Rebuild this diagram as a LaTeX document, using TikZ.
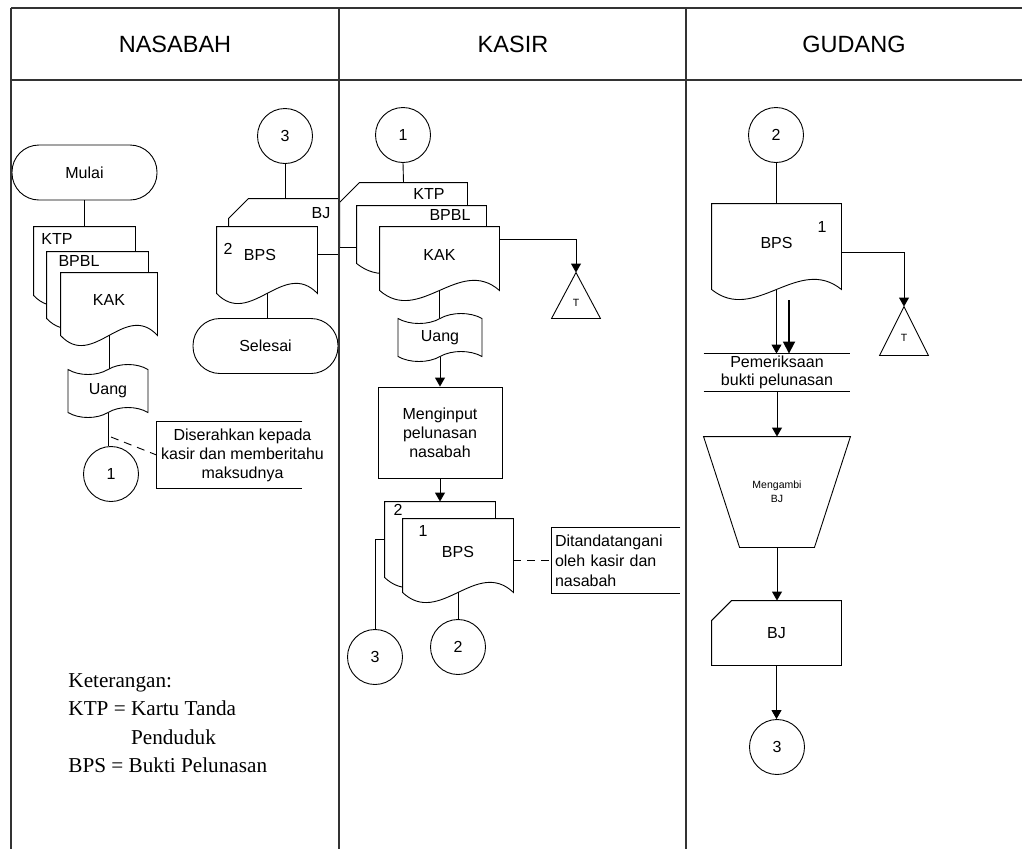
\documentclass[tikz,border=0pt]{standalone}
\usepackage{fontspec}
\setmainfont{Liberation Sans}
\newfontfamily\ketfont{Liberation Serif}
\usetikzlibrary{arrows.meta,calc,shapes.symbols}

\newcommand{\nodefont}{\fontsize{16}{19}\selectfont}
\newcommand{\smalltxt}{\fontsize{10.5}{14}\selectfont}

% document outline round an empty node (wavy bottom)
\newcommand{\docout}[2]{%
  \draw[fill=white] let \p1=(#1.south west), \p2=(#1.north east) in
    (\x1,\y2) -- (\x2,\y2) -- (\x2,\y1)
    .. controls ({\x2-(\x2-\x1)/3},{\y1+35pt}) and ({\x1+(\x2-\x1)/3},{\y1-35pt}) .. (\x1,\y1) -- cycle;
  \node[font=\nodefont] (#1-t) at ([yshift=4pt]#1) {#2};}

% card outline round an empty node (cut corner top left)
\newcommand{\cardout}[2]{%
  \draw[fill=white] let \p1=(#1.south west), \p2=(#1.north east) in
    ({\x1+20pt},\y2) -- (\x2,\y2) -- (\x2,\y1) -- (\x1,\y1) -- (\x1,{\y2-20pt}) -- cycle;
  \node[font=\nodefont] (#1-t) at (#1) {#2};}

% triangle (off-page store) round an empty node
\newcommand{\triout}[1]{%
  \draw (#1.north) -- (#1.south east) -- (#1.south west) -- cycle;
  \node[font=\smalltxt] (#1-t) at ([yshift=-7pt]#1) {T};}

\begin{document}
\begin{tikzpicture}[
    x=1pt, y=-1pt, line width=0.9pt,
    % Styles
    lane/.style={line width=2.2pt, black!80},
    docbox/.style={rectangle, inner sep=0pt},
    conn/.style={circle, draw, fill=white, minimum size=55pt, inner sep=0pt, font=\nodefont},
    term/.style={rectangle, draw, rounded corners=27pt, minimum width=145pt, minimum height=55pt, font=\nodefont},
    tapebox/.style={tape, draw, tape bend height=10pt, minimum width=80pt, inner sep=0pt, font=\nodefont},
    procbox/.style={rectangle, draw, align=center, minimum width=124pt, minimum height=91pt, font=\nodefont},
    tribox/.style={rectangle, inner sep=0pt, minimum width=48pt},
    notebox/.style={rectangle, inner sep=3pt, font=\nodefont},
    header/.style={font=\fontsize{23.5}{28}\selectfont},
    arr/.style={-{Triangle[length=9pt,width=10pt]}}
]
\useasboundingbox (0,0) rectangle (1022,849);

% --- Frame coordinates ---
\coordinate (topL) at (11,8);
\coordinate (topR) at (1022,8);
\coordinate (laneA) at (11,849);
\coordinate (laneB) at (339,849);
\coordinate (laneC) at (686,849);

% --- Headers ---
\node[header] (hN) at (175,44) {NASABAH};
\node[header] (hK) at (513,44) {KASIR};
\node[header] (hG) at (854,44) {GUDANG};

% --- Nasabah ---
\node[term] (mulai) at (84.5,172.5) {Mulai};
\node[docbox, minimum width=101pt, minimum height=68pt] (ktpN) at (84.5,261) {};
\node[docbox, minimum width=101pt, minimum height=66pt] (bpblN) at (97.5,285) {};
\node[docbox, minimum width=96pt, minimum height=62pt] (kakN) at (109,304) {};
\docout{ktpN}{}
\docout{bpblN}{}
\docout{kakN}{KAK}
\node[font=\nodefont] (ktpN-l) at (57,239) {KTP};
\node[font=\nodefont] (bpblN-l) at (79,261) {BPBL};
\node[tapebox, minimum height=53pt] (uangN) at (108,391) {Uang};
\node[conn] (circN1) at (111,474) {1};
\node[notebox, minimum width=145pt, minimum height=66pt] (noteN) at (229.5,455) {};
\node[notebox, align=center] (noteN-t) at (242.5,455)
  {Diserahkan kepada\\kasir dan memberitahu\\maksudnya};
\coordinate (noteNfrom) at (111,437);

\node[conn] (circN3) at (285,136) {3};
\node[docbox, minimum width=109pt, minimum height=55pt] (bjN) at (283.5,226.5) {};
\node[docbox, minimum width=100pt, minimum height=66pt] (bpsN) at (267,260) {};
\cardout{bjN}{}
\docout{bpsN}{}
\node[font=\nodefont] (bjN-l) at (321,213) {BJ};
\node[font=\nodefont] (bpsN-n) at (228,249) {2};
\node[font=\nodefont] (bpsN-l) at (260,255) {BPS};
\node[term] (selesai) at (265.5,346) {Selesai};

% --- Kasir ---
\node[conn] (circK1) at (403,135) {1};
\node[docbox, minimum width=127pt, minimum height=64pt] (ktpK) at (403.5,215) {};
\node[docbox, minimum width=129pt, minimum height=57pt] (bpblK) at (421.5,234.5) {};
\node[docbox, minimum width=119pt, minimum height=63pt] (kakK) at (439.5,258.5) {};
\cardout{ktpK}{}
\docout{bpblK}{}
\docout{kakK}{KAK}
\node[font=\nodefont] (ktpK-l) at (429,194) {KTP};
\node[font=\nodefont] (bpblK-l) at (450,215) {BPBL};
\node[tribox, minimum height=45pt] (triK) at (576,295.5) {};
\triout{triK}
\node[tapebox, minimum width=84pt, minimum height=48pt] (uangK) at (440,337.5) {Uang};
\node[procbox] (input) at (440,432.5) {Menginput\\pelunasan\\nasabah};
\node[docbox, minimum width=110pt, minimum height=75pt] (bps2K) at (440,539.5) {};
\node[docbox, minimum width=110pt, minimum height=73pt] (bps1K) at (458,555.5) {};
\docout{bps2K}{}
\docout{bps1K}{BPS}
\node[font=\nodefont] (bps2K-n) at (398,510) {2};
\node[font=\nodefont] (bps1K-n) at (423,531) {1};
\node[notebox, text width=122pt, align=left, font=\fontsize{16}{20}\selectfont, minimum height=65pt] (noteK) at (616,560.5)
  {Ditandatangani\\oleh kasir dan\\nasabah};
\node[conn] (circK3) at (375,657) {3};
\node[conn] (circK2) at (458,647) {2};

% --- Gudang ---
\node[conn] (circG2) at (776,135) {2};
\node[docbox, minimum width=129pt, minimum height=85pt] (bpsG) at (776.5,246.5) {};
\docout{bpsG}{BPS}
\node[font=\nodefont] (bpsG-n) at (822,227) {1};
\node[tribox, minimum height=48pt] (triG) at (904,331) {};
\triout{triG}
\node[rectangle, inner sep=0pt, minimum width=146pt, minimum height=37pt, align=center,
  font=\fontsize{16}{18}\selectfont] (periksa) at (777,372.5) {Pemeriksaan\\bukti pelunasan};
\coordinate (thickFrom) at (789,300);
\node[rectangle, inner sep=0pt, minimum width=146pt, minimum height=110pt, align=center,
  font=\smalltxt] (ambil) at (777,492) {Mengambi\\BJ};
\draw (ambil.north west) -- (ambil.north east) -- ([xshift=-36pt]ambil.south east)
  -- ([xshift=36pt]ambil.south west) -- cycle;
\node[docbox, minimum width=129pt, minimum height=64pt] (bjG) at (776.5,633) {};
\cardout{bjG}{BJ}
\node[conn] (circG3) at (777,747) {3};

% --- Keterangan ---
\node[anchor=base west, align=left, inner sep=0pt, font=\ketfont\fontsize{21.2}{28.5}\selectfont] (ket) at (68,772.5)
  {Keterangan:\\KTP = Kartu Tanda\\\hphantom{KTP = }Penduduk\\BPS = Bukti Pelunasan};

% --- Connectors ---
\draw (mulai.south) -- (ktpN.north);
\draw (kakN.south) -- (kakN.south |- uangN.north);
\draw (uangN.south) -- (uangN.south |- circN1.north);
\draw (noteN.north east) -- (noteN.north west) -- (noteN.south west) -- (noteN.south east);
\draw[dashed, dash pattern=on 8pt off 6pt] (noteNfrom) -- (noteN.west);
\draw (circN3.south) -- (circN3.south |- bjN.north);
\draw (bpsN.south) -- (bpsN.south |- selesai.north);

\draw (circK1.south) -- (ktpK.north);
\draw[arr] ([yshift=19.5pt]kakK.east) -| (triK.north);
\draw (kakK.south) -- (kakK.south |- uangK.north);
\draw[arr] (uangK.south) -- (uangK.south |- input.north);
\draw[arr] (input.south) -- (bps2K.north);
\draw (bps2K.west) -| (circK3.north);
\draw (bps1K.south) -- (circK2.north);
\draw (noteK.north east) -- (noteK.north west) -- (noteK.south west) -- (noteK.south east);
\draw[dashed, dash pattern=on 8pt off 6pt] (bps1K.east |- noteK.west) -- (noteK.west);

\draw (circG2.south) -- (circG2.south |- bpsG.north);
\draw[arr] ([yshift=-5.5pt]bpsG.east) -| (triG.north);
\draw[arr] (bpsG.south) -- (bpsG.south |- periksa.north);
\draw[line width=1.8pt, -{Triangle[length=12pt,width=12pt]}] (thickFrom) -- (thickFrom |- periksa.north);
\draw (periksa.north west) -- (periksa.north east);
\draw (periksa.south west) -- (periksa.south east);
\draw[arr] (periksa.south) -- (periksa.south |- ambil.north);
\draw[arr] (ambil.south) -- (ambil.south |- bjG.north);
\draw[arr] (bjG.south) -- (bjG.south |- circG3.north);

% --- Frame ---
\draw[lane] (topL) -- (topR);
\draw[lane, line width=1.6pt] (11,80) -- (1022,80);
\draw[lane] (topL) -- (laneA);
\draw[lane] (topL -| laneB) -- (laneB);
\draw[lane] (topL -| laneC) -- (laneC);

\end{tikzpicture}
\end{document}
